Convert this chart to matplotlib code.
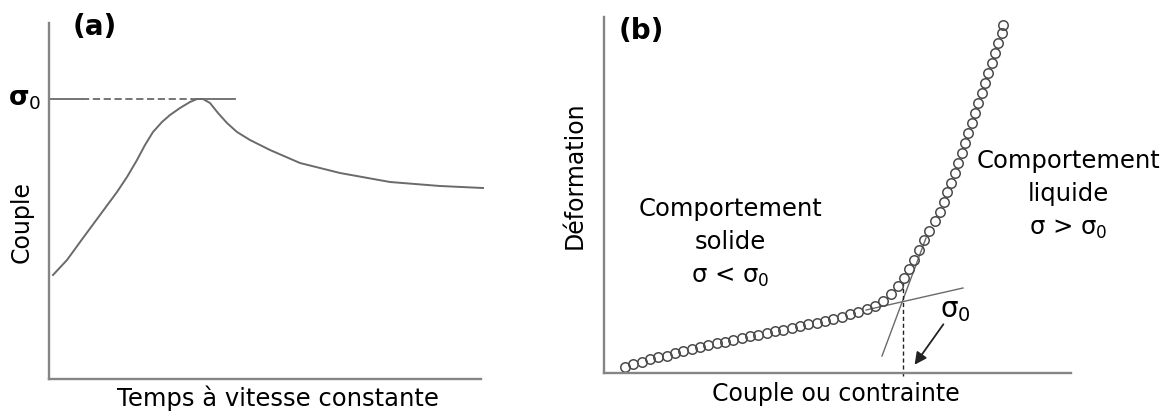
import numpy as np
import matplotlib.pyplot as plt

# %% Data (arbitrary units, axes origin at 0, 0)
#- (a) couple vs time at constant speed
time_a = [4, 18, 34, 51, 68, 78, 88, 96, 104, 113, 121, 131, 141, 148, 154,
          161, 169, 178, 188, 201, 221, 251, 291, 341, 391, 434]
couple_a = [104, 119, 141, 164, 187, 202, 219, 234, 247, 257, 264, 271, 277,
            280, 280, 276, 266, 256, 247, 239, 229, 216, 206, 197, 193, 191]
sigma0_a = 280
sigma0_solid1 = [0, 33]
sigma0_dashed = [33, 143]
sigma0_solid2 = [143, 186]

#- (b) deformation vs couple / stress
stress_b = [21, 29, 38, 46, 54, 63, 71, 79, 88, 96, 104, 113, 121, 129, 138,
            146, 154, 163, 171, 179, 188, 196, 204, 213, 221, 229, 238, 246,
            254, 263, 271, 279, 287, 294, 300, 305, 310, 315, 320, 325, 331,
            336, 340, 343, 347, 351, 354, 358, 361, 364, 368, 371, 374, 378,
            381, 384, 388, 391, 394, 398, 399]
strain_b = [6, 9, 11, 14, 16, 17, 20, 22, 24, 26, 28, 30, 31, 33, 35, 37, 38,
            40, 42, 43, 45, 47, 49, 50, 52, 54, 56, 59, 61, 64, 67, 72, 79, 87,
            95, 104, 113, 123, 133, 142, 152, 161, 171, 181, 190, 200, 210,
            220, 230, 240, 250, 260, 270, 280, 290, 300, 310, 320, 330, 340,
            348]
tangent_low_x = [262, 359]
tangent_low_y = [63, 85]
tangent_high_x = [278, 322]
tangent_high_y = [17, 135]
sigma0_b = 299
sigma0_b_top = 90

#- Plot parameters
W, H = 1176, 412
fontsize = 17
grey = '#858585'
line = '#6a6a6a'

plt.rcParams['font.family'] = ['DejaVu Sans']
plt.rcParams['mathtext.fontset'] = 'dejavusans'

fig = plt.figure(figsize=(W/100, H/100), dpi=100)

def make_axes(left, bottom, right, top, xmax, ymax):
    ax = fig.add_axes([left/W, (H - bottom)/H, (right - left)/W,
                       (bottom - top)/H])
    ax.set_xlim(0, xmax)
    ax.set_ylim(0, ymax)
    for s in ['top', 'right']:
        ax.spines[s].set_visible(False)
    for s in ['left', 'bottom']:
        ax.spines[s].set_color(grey)
        ax.spines[s].set_linewidth(1.7)
    ax.set_xticks([])
    ax.set_yticks([])
    ax.patch.set_alpha(0)
    return ax

# %% Panel (a)
ax = make_axes(49, 379, 481, 23, 432, 356)
ax.plot(time_a, couple_a, color=line, linewidth=1.4, clip_on=False,
        solid_joinstyle='round')
ax.plot(sigma0_solid1, [sigma0_a]*2, color=line, linewidth=1.3)
ax.plot(sigma0_dashed, [sigma0_a]*2, color=line, linewidth=1.3,
        linestyle=(0, (4, 2)))
ax.plot(sigma0_solid2, [sigma0_a]*2, color=line, linewidth=1.3)
ax.text(-24, sigma0_a, 'σ$_0$', fontsize=19, ha='center', va='center',
        fontweight='bold')
ax.text(0.107, 0.99, '(a)', transform=ax.transAxes, fontsize=20,
        fontweight='bold', ha='center', va='center')
ax.text(0.53, -0.055, 'Temps à vitesse constante', transform=ax.transAxes,
        fontsize=17.5, ha='center', va='center')
ax.text(-0.063, 0.44, 'Couple', transform=ax.transAxes, fontsize=fontsize,
        ha='center', va='center', rotation=90)

# %% Panel (b)
ax = make_axes(604, 373, 1071, 17, 467, 356)
ax.plot(tangent_low_x, tangent_low_y, color=line, linewidth=1.0)
ax.plot(tangent_high_x, tangent_high_y, color=line, linewidth=1.0)
ax.plot([sigma0_b]*2, [-3, sigma0_b_top], color='#222222', linewidth=1.0,
        linestyle=(0, (3, 2)), clip_on=False)
ax.plot(stress_b, strain_b, linestyle='none', marker='o', markersize=6.8,
        markerfacecolor='none', markeredgecolor='#4a4a4a',
        markeredgewidth=1.1, clip_on=False)
ax.annotate('', xy=(sigma0_b + 10, 6), xytext=(sigma0_b + 42, 51),
            arrowprops=dict(arrowstyle='-|>', color='#222222', lw=1.3,
                            mutation_scale=18))
ax.text(sigma0_b + 52, 63, 'σ$_0$', fontsize=20, ha='center', va='center')
ax.text(0.08, 0.96, '(b)', transform=ax.transAxes, fontsize=20,
        fontweight='bold', ha='center', va='center')
ax.text(0.497, -0.058, 'Couple ou contrainte', transform=ax.transAxes,
        fontsize=fontsize, ha='center', va='center')
ax.text(-0.062, 0.555, 'Déformation', transform=ax.transAxes,
        fontsize=fontsize, ha='center', va='center', rotation=90)
ax.text(0.27, 0.365, 'Comportement\nsolide\nσ < σ$_0$', transform=ax.transAxes,
        fontsize=17.5, ha='center', va='center', linespacing=1.5)
ax.text(0.994, 0.5, 'Comportement\nliquide\nσ > σ$_0$', transform=ax.transAxes,
        fontsize=17.5, ha='center', va='center', linespacing=1.5)

fig.savefig('out.png', dpi=100, facecolor='white')
